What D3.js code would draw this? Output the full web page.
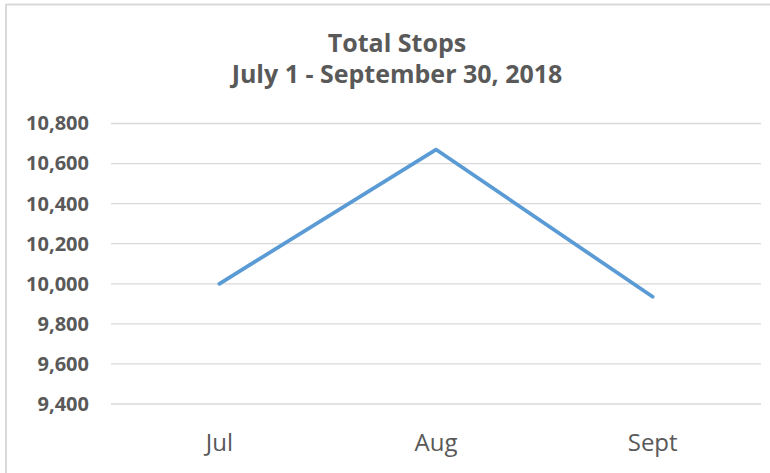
<!DOCTYPE html>
<html lang="en">
<head>
	<meta charset="utf-8">
	<title>Total Stops</title>
	<script src="https://cdn.jsdelivr.net/npm/d3@7"></script>
	<style type="text/css">
		body {
			margin: 0;
			background: #fff;
		}
		.axis text {
			font-family: "Open Sans", sans-serif;
			fill: #595959;
		}
	</style>
</head>
<body>
	<div id="vis"></div>

	<script type="text/javascript">

		var months = ["Jul", "Aug", "Sept"];
		var stops = [10000, 10670, 9935];
		var yTicks = [9400, 9600, 9800, 10000, 10200, 10400, 10600, 10800];
		var titleLines = ["Total Stops", "July 1 - September 30, 2018"];

		var w = 770;
		var h = 473;
		var plotLeft = 111, plotRight = 761, plotTop = 123.5, plotBottom = 404;

		var svg = d3.select("#vis")
					.append("svg")
					.attr("width", w)
					.attr("height", h);

		//Chart frame (top and left edges visible)
		svg.append("line")
			.attr("x1", 6).attr("x2", w)
			.attr("y1", 4.5).attr("y2", 4.5)
			.attr("stroke", "#d9d9d9")
			.attr("stroke-width", 2);
		svg.append("line")
			.attr("x1", 6).attr("x2", 6)
			.attr("y1", 4).attr("y2", h)
			.attr("stroke", "#d9d9d9")
			.attr("stroke-width", 2);

		var xScale = d3.scaleBand()
						.domain(months)
						.range([plotLeft, plotRight]);

		var yScale = d3.scaleLinear()
						.domain([9400, 10800])
						.range([plotBottom, plotTop]);

		//Gridlines
		svg.append("g")
			.selectAll("line")
			.data(yTicks)
			.enter()
			.append("line")
			.attr("x1", plotLeft)
			.attr("x2", plotRight)
			.attr("y1", function(d) { return yScale(d); })
			.attr("y2", function(d) { return yScale(d); })
			.attr("stroke", "#d9d9d9")
			.attr("stroke-width", 1.3);

		//Y axis
		var yAxis = d3.axisLeft(yScale)
						.tickValues(yTicks)
						.tickSize(0)
						.tickPadding(22)
						.tickFormat(d3.format(","));

		var yG = svg.append("g")
			.attr("class", "axis")
			.attr("transform", "translate(" + plotLeft + ",0)")
			.call(yAxis);
		yG.select(".domain").remove();
		yG.selectAll("text")
			.attr("font-size", "20px")
			.attr("font-weight", "bold");

		//X axis
		var xAxis = d3.axisBottom(xScale)
						.tickSize(0)
						.tickPadding(30);

		var xG = svg.append("g")
			.attr("class", "axis")
			.attr("transform", "translate(0," + plotBottom + ")")
			.call(xAxis);
		xG.select(".domain").remove();
		xG.selectAll("text")
			.attr("font-size", "24px");

		//Line
		var line = d3.line()
					.x(function(d, i) { return xScale(months[i]) + xScale.bandwidth() / 2; })
					.y(function(d) { return yScale(d); });

		svg.append("path")
			.datum(stops)
			.attr("d", line)
			.attr("fill", "none")
			.attr("stroke", "#5b9bd5")
			.attr("stroke-width", 3.75)
			.attr("stroke-linecap", "round")
			.attr("stroke-linejoin", "round");

		//Title
		svg.selectAll("text.title")
			.data(titleLines)
			.enter()
			.append("text")
			.attr("class", "title")
			.attr("x", 397)
			.attr("y", function(d, i) { return 52 + i * 31; })
			.attr("text-anchor", "middle")
			.attr("font-family", "'Open Sans', sans-serif")
			.attr("font-weight", "bold")
			.attr("font-size", "25px")
			.attr("fill", "#595959")
			.text(function(d) { return d; });

	</script>
</body>
</html>
